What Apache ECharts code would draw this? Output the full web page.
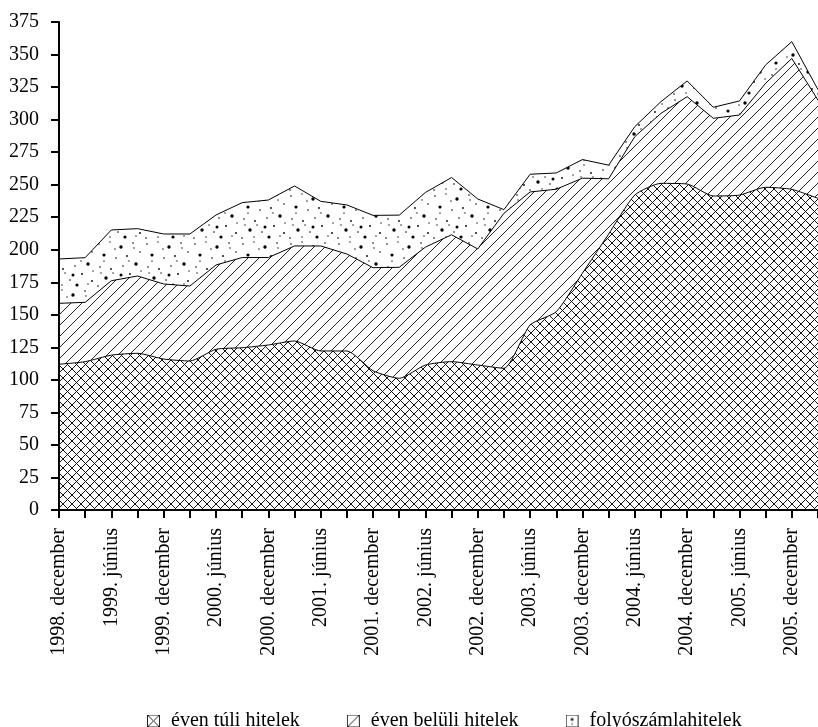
<!DOCTYPE html>
<html>
<head>
<meta charset="utf-8">
<script src="https://cdn.jsdelivr.net/npm/echarts@6/dist/echarts.min.js"></script>
<style>
html,body{margin:0;padding:0;background:#fff;}
#chart{width:818px;height:727px;}
</style>
</head>
<body>
<div id="chart"></div>
<script>
const categories = ["1998. december","1999. március","1999. június","1999. szeptember","1999. december","2000. március","2000. június","2000. szeptember","2000. december","2001. március","2001. június","2001. szeptember","2001. december","2002. március","2002. június","2002. szeptember","2002. december","2003. március","2003. június","2003. szeptember","2003. december","2004. március","2004. június","2004. szeptember","2004. december","2005. március","2005. június","2005. szeptember","2005. december","2006. március"];
const seriesNames = ["éven túli hitelek","éven belüli hitelek","folyószámlahitelek"];
const evenTuli = [112,114,119,120.4,116,114.5,123.5,124.7,126.8,129.9,122.2,122.2,107,101.2,111.4,114,111.4,108.9,142.2,152.4,182,212,242,251,250.5,241.3,242,248,246.4,239.5];
const evenBeluli = [46.8,45.6,57.2,59.4,57.7,57.6,64.8,69.3,67.2,73.0,80.7,74.5,79.2,85.3,90.6,97.5,89.2,119.1,102.2,94.1,73,42.5,44.9,53.8,67.1,59.7,61.5,79.9,100.6,75.5];
const folyoszamla = [34.1,34.3,39,36.4,38.4,40,38.4,42.2,44.2,46.1,34.3,37.7,40.2,40.1,42,44,38.4,2.8,13.6,12.5,14.3,10.5,7.7,9,12.1,8.5,10.8,14.1,12.9,8];
const yTicks = {min:0, max:375, interval:25};

function makeCanvas(w,h,draw){const c=document.createElement('canvas');c.width=w;c.height=h;const ctx=c.getContext('2d');draw(ctx);return c;}
const crossTile = makeCanvas(9,9,ctx=>{ctx.strokeStyle='#111';ctx.lineWidth=1;ctx.beginPath();ctx.moveTo(0,0);ctx.lineTo(9,9);ctx.moveTo(9,0);ctx.lineTo(0,9);ctx.stroke();});
const diagTile = makeCanvas(11,11,ctx=>{ctx.strokeStyle='#222';ctx.lineWidth=1;ctx.beginPath();for(const k of [-11,0,11]){ctx.moveTo(k,11);ctx.lineTo(k+11,0);}ctx.stroke();});
const dotSpots=[[3,4,0.8],[14,2,0.7],[25,7,1.7],[37,3,0.8],[44,12,0.8],[8,15,1.6],[20,18,0.8],[31,16,0.9],[40,24,1.7],[4,27,0.8],[15,29,0.9],[27,26,0.8],[34,34,0.9],[10,38,1.7],[22,40,0.8],[44,41,0.9],[2,46,0.8],[29,45,1.6],[17,33,0.7],[38,8,0.7],[19,9,0.7],[8,21,0.7],[33,21,0.7],[45,31,0.7],[25,35,1.5],[5,33,0.7],[40,44,0.7],[14,45,0.7]];
const dotTile = makeCanvas(48,48,ctx=>{ctx.fillStyle='#000';for(const d of dotSpots){ctx.beginPath();ctx.arc(d[0],d[1],d[2],0,Math.PI*2);ctx.fill();}});
function icon(kind){return 'image://'+makeCanvas(19,13,ctx=>{ctx.strokeStyle='#222';ctx.lineWidth=1;ctx.strokeRect(0.5,0.5,12,12);ctx.beginPath();
 if(kind===0){ctx.moveTo(0.5,0.5);ctx.lineTo(12.5,12.5);ctx.moveTo(12.5,0.5);ctx.lineTo(0.5,12.5);ctx.stroke();}
 else if(kind===1){ctx.moveTo(0.5,12.5);ctx.lineTo(12.5,0.5);ctx.stroke();}
 else {ctx.fillStyle='#111';ctx.arc(6.5,5,1.4,0,Math.PI*2);ctx.fill();ctx.beginPath();ctx.arc(6.5,9.5,0.7,0,Math.PI*2);ctx.fill();}
}).toDataURL();}

const font = 'Liberation Serif';
const chart = echarts.init(document.getElementById('chart'));
const lineStyle = {color:'#000', width:1};
chart.setOption({
  animation:false,
  backgroundColor:'#fff',
  grid:{left:59, top:22, width:764.4, bottom:217, containLabel:false},
  legend:{left:142, top:706, itemWidth:19, itemHeight:13, itemGap:47,
    textStyle:{fontFamily:font, fontSize:20, color:'#000'},
    data:seriesNames.map((n,i)=>({name:n, icon:icon(i)}))},
  xAxis:{type:'category', data:categories, boundaryGap:false,
    axisLine:{lineStyle:{color:'#000', width:2}},
    axisTick:{show:true, interval:0, length:8, lineStyle:{color:'#000', width:2}},
    axisLabel:{interval:1, rotate:90, margin:18, fontFamily:font, fontSize:20, color:'#000'},
    splitLine:{show:false}},
  yAxis:{type:'value', min:yTicks.min, max:yTicks.max, interval:yTicks.interval,
    axisLine:{show:true, lineStyle:{color:'#000', width:2}},
    axisTick:{show:true, length:8, lineStyle:{color:'#000', width:2}},
    axisLabel:{margin:20, fontFamily:font, fontSize:20, color:'#000'},
    splitLine:{show:false}},
  series:[
    {name:seriesNames[0], type:'line', stack:'total', data:evenTuli, symbol:'none', smooth:0.2, z:5,
      lineStyle:lineStyle, itemStyle:{color:'#000'}, areaStyle:{color:{image:crossTile, repeat:'repeat'}, opacity:1}},
    {name:seriesNames[1], type:'line', stack:'total', data:evenBeluli, symbol:'none', z:4,
      lineStyle:lineStyle, itemStyle:{color:'#000'}, areaStyle:{color:{image:diagTile, repeat:'repeat'}, opacity:1}},
    {name:seriesNames[2], type:'line', stack:'total', data:folyoszamla, symbol:'none', z:3,
      lineStyle:lineStyle, itemStyle:{color:'#000'}, areaStyle:{color:{image:dotTile, repeat:'repeat'}, opacity:1}}
  ]
});
</script>
</body>
</html>
